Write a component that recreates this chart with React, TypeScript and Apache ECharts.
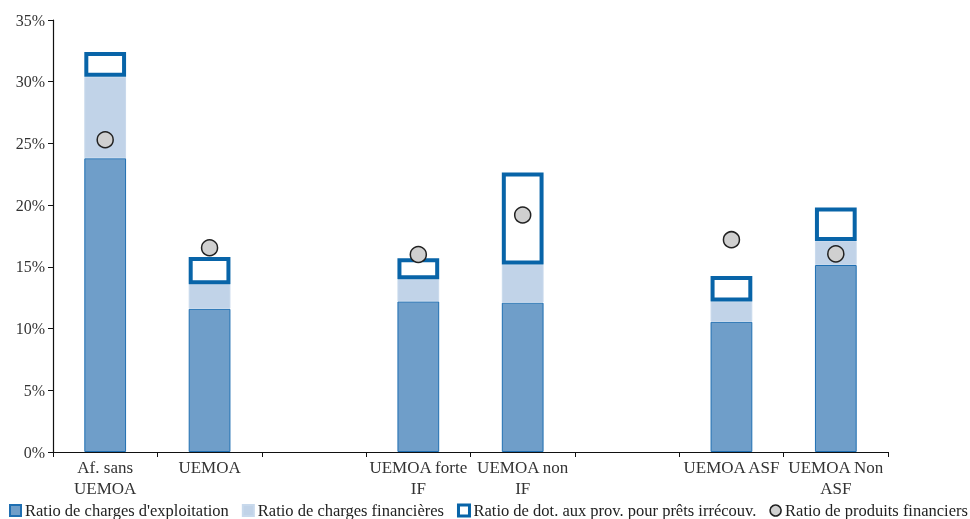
import React, { useEffect, useRef } from "react";
import * as echarts from "echarts";

const categories = [
  "Af. sans\nUEMOA",
  "UEMOA",
  "",
  "UEMOA forte\nIF",
  "UEMOA non\nIF",
  "",
  "UEMOA ASF",
  "UEMOA Non\nASF",
];
const exploitation = [23.8, 11.6, null, 12.2, 12.1, null, 10.55, 15.15];
const financieres = [6.6, 2.0, null, 1.8, 3.1, null, 1.65, 1.95];
const provisions = [2.0, 2.2, null, 1.7, 7.45, null, 2.05, 2.7];
const produits = [25.3, 16.55, null, 16.0, 19.2, null, 17.2, 16.05];
const yTicks = [0, 5, 10, 15, 20, 25, 30, 35];

const FONT = "'Liberation Serif', 'DejaVu Serif', serif";

export default function App() {
  const ref = useRef<HTMLDivElement>(null);
  useEffect(() => {
    if (!ref.current) return;
    const chart = echarts.init(ref.current, undefined, { renderer: "svg" });
    chart.setOption({
      animation: false,
      textStyle: { fontFamily: FONT },
      grid: { left: 53, right: 82, top: 20, bottom: 67 },
      legend: {
        left: 9,
        top: 502,
        padding: 0,
        itemWidth: 11,
        itemHeight: 11,
        itemGap: 13,
        textStyle: { fontFamily: FONT, fontSize: 16.5, color: "#222", padding: [0, 0, 0, -1] },
        data: [
          { name: "Ratio de charges d'exploitation", icon: "rect" },
          { name: "Ratio de charges financières", icon: "rect" },
          {
            name: "Ratio de dot. aux prov. pour prêts irrécouv.",
            icon: "rect",
            itemStyle: { color: "#fff", borderColor: "#0864a8", borderWidth: 3 },
          },
          {
            name: "Ratio de produits financiers",
            icon: "circle",
            itemStyle: { color: "#d0d0d0", borderColor: "#222", borderWidth: 1.5 },
          },
        ],
      },
      xAxis: {
        type: "category",
        data: categories,
        boundaryGap: true,
        axisLine: { lineStyle: { color: "#111", width: 1.2 } },
        axisTick: { show: true, alignWithLabel: false, length: 5, lineStyle: { color: "#111" } },
        axisLabel: { color: "#333", fontSize: 17, fontFamily: FONT, lineHeight: 21, margin: 5, interval: 0 },
      },
      yAxis: {
        type: "value",
        min: 0,
        max: 35,
        interval: 5,
        splitLine: { show: false },
        axisLine: { show: true, lineStyle: { color: "#111", width: 1.2 } },
        axisTick: { show: true, length: 5, lineStyle: { color: "#111" } },
        axisLabel: {
          color: "#333",
          fontSize: 16,
          fontFamily: FONT,
          margin: 8,
          formatter: (v: number) => (yTicks.includes(v) ? v + "%" : ""),
        },
      },
      series: [
        {
          name: "Ratio de charges d'exploitation",
          type: "bar",
          stack: "s",
          barWidth: "40%",
          data: exploitation,
          itemStyle: { color: "#6f9ec9", borderColor: "#1f6fb2", borderWidth: 1 },
        },
        {
          name: "Ratio de charges financières",
          type: "bar",
          stack: "s",
          data: financieres,
          itemStyle: { color: "#c1d3e8", borderColor: "#c8d9ec", borderWidth: 1 },
        },
        {
          name: "Ratio de dot. aux prov. pour prêts irrécouv.",
          type: "bar",
          stack: "s",
          data: provisions,
          itemStyle: { color: "#ffffff", borderColor: "#0864a8", borderWidth: 4 },
        },
        {
          name: "Ratio de produits financiers",
          type: "scatter",
          data: produits,
          symbol: "circle",
          symbolSize: 16,
          itemStyle: { color: "#d0d0d0", borderColor: "#222", borderWidth: 1.5, opacity: 1 },
          z: 5,
        },
      ],
    });
    return () => chart.dispose();
  }, []);
  return <div ref={ref} style={{ position: "fixed", left: 0, top: 0, width: 970, height: 519 }} />;
}
